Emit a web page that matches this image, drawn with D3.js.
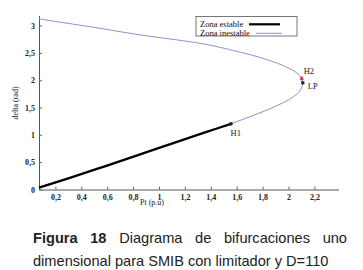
<!DOCTYPE html>
<html>
<head>
<meta charset="utf-8">
<script src="https://cdn.jsdelivr.net/npm/d3@7"></script>
<style>
  body { margin: 0; background: #fff; }
  svg { display: block; }
</style>
</head>
<body>
<div id="plot-container"></div>
<script>
// Stable branch (Pt, delta)
const stableP = [0.073, 0.30, 0.544, 0.815, 1.162, 1.35, 1.556];
const stableDelta = [0.035, 0.205, 0.395, 0.612, 0.89, 1.04, 1.202];

// Unstable branch, from H1 round LP back to the left
const unstableP = [1.556, 1.70, 1.85, 1.96, 2.04, 2.09, 2.11, 2.102, 2.063, 1.986, 1.832, 1.574, 1.337, 0.822, 0.488, 0.073];
const unstableDelta = [1.202, 1.33, 1.47, 1.59, 1.70, 1.81, 1.952, 2.03, 2.135, 2.237, 2.378, 2.543, 2.665, 2.84, 2.97, 3.12];

// Special points
const pointNames = ['H1', 'H2', 'LP'];
const pointP = [1.556, 2.102, 2.11];
const pointDelta = [1.202, 2.03, 1.952];

const xTicks = [0.2, 0.4, 0.6, 0.8, 1, 1.2, 1.4, 1.6, 1.8, 2, 2.2];
const yTicks = [0, 0.5, 1, 1.5, 2, 2.5, 3];

const legendLabels = ['Zona estable', 'Zona inestable'];
const captionLine1 = ['Figura', '18', 'Diagrama', 'de', 'bifurcaciones', 'uno'];
const captionLine2 = 'dimensional para SMIB con limitador y D=110';

const W = 363, H = 270;
const svg = d3.select('#plot-container')
  .append('svg')
  .attr('width', W)
  .attr('height', H);

svg.append('rect').attr('width', W).attr('height', H).attr('fill', '#fff');

const x = d3.scaleLinear().domain([0.0734, 2.386]).range([39, 338.5]);
const y = d3.scaleLinear().domain([0, 3.183]).range([189.5, 15.5]);

const fmt = v => String(v).replace('.', ',');
const serif = '"Liberation Serif", "DejaVu Serif", serif';

// x axis, ticks pointing inward
const xAxis = svg.append('g')
  .attr('transform', `translate(0,${y(0)})`)
  .call(d3.axisBottom(x).tickValues(xTicks).tickFormat(fmt).tickSizeInner(-3).tickSizeOuter(0).tickPadding(4.5));
xAxis.select('.domain').attr('stroke', '#555');
xAxis.selectAll('.tick line').attr('stroke', '#666');
xAxis.selectAll('text')
  .attr('fill', '#222')
  .style('font-family', serif)
  .style('font-size', '8px')
  .style('font-weight', 'bold');

// y axis
const yAxis = svg.append('g')
  .attr('transform', `translate(${x.range()[0]},0)`)
  .call(d3.axisLeft(y).tickValues(yTicks).tickFormat(fmt).tickSizeInner(-3).tickSizeOuter(0).tickPadding(4));
yAxis.select('.domain').attr('stroke', '#555');
yAxis.selectAll('.tick line').attr('stroke', '#666');
yAxis.selectAll('text')
  .attr('fill', '#222')
  .style('font-family', serif)
  .style('font-size', '8px')
  .style('font-weight', 'bold');

// axis titles (the x title sits low, just under the "1" label, as in the source)
svg.append('text')
  .attr('x', 152).attr('y', 205)
  .attr('text-anchor', 'middle')
  .style('font-family', serif).style('font-size', '8px')
  .attr('fill', '#222')
  .text('Pt (p.u)');

svg.append('text')
  .attr('transform', 'translate(15,103) rotate(-90)')
  .attr('text-anchor', 'middle')
  .attr('dy', '0.35em')
  .style('font-family', serif).style('font-size', '8px')
  .attr('fill', '#222')
  .text('delta (rad)');

// curves
const line = d3.line()
  .x(d => x(d[0]))
  .y(d => y(d[1]))
  .curve(d3.curveCatmullRom.alpha(0.5));

svg.append('path')
  .datum(unstableP.map((p, i) => [p, unstableDelta[i]]))
  .attr('d', line)
  .attr('fill', 'none')
  .attr('stroke', '#8a90d4')
  .attr('stroke-width', 1);

svg.append('path')
  .datum(stableP.map((p, i) => [p, stableDelta[i]]))
  .attr('d', line)
  .attr('fill', 'none')
  .attr('stroke', '#000')
  .attr('stroke-width', 2.3);

// special points
const markColors = ['#222', '#e0204a', '#222'];
pointNames.forEach((name, i) => {
  svg.append('path')
    .attr('transform', `translate(${x(pointP[i])},${y(pointDelta[i])})`)
    .attr('d', d3.symbol().type(d3.symbolAsterisk).size(10)())
    .attr('fill', 'none')
    .attr('stroke', markColors[i])
    .attr('stroke-width', 1.2);
});

const labelOffsets = { H1: [-0.5, 12], H2: [2, -4.5], LP: [5, 6] };
pointNames.forEach((name, i) => {
  const o = labelOffsets[name];
  svg.append('text')
    .attr('x', x(pointP[i]) + o[0])
    .attr('y', y(pointDelta[i]) + o[1])
    .style('font-family', serif).style('font-size', '8.5px')
    .attr('fill', '#222')
    .text(name);
});

// legend
const legend = svg.append('g');
legend.append('rect')
  .attr('x', 196).attr('y', 16.5).attr('width', 101).attr('height', 19.5)
  .attr('fill', '#fff').attr('stroke', '#555').attr('stroke-width', 0.8);
legendLabels.forEach((lab, i) => {
  legend.append('text')
    .attr('x', 200).attr('y', 27 + i * 8.7)
    .style('font-family', serif).style('font-size', '8.5px')
    .attr('fill', '#111')
    .text(lab);
});
legend.append('line')
  .attr('x1', 249).attr('x2', 280).attr('y1', 24.3).attr('y2', 24.3)
  .attr('stroke', '#000').attr('stroke-width', 2.2);
legend.append('line')
  .attr('x1', 256).attr('x2', 282).attr('y1', 33.3).attr('y2', 33.3)
  .attr('stroke', '#8a90d4').attr('stroke-width', 1);

// caption, first line justified
const sans = '"Liberation Sans", Arial, sans-serif';
const capLeft = 33, capRight = 347;
const words = captionLine1.map((w, i) => svg.append('text')
  .attr('y', 243)
  .style('font-family', sans).style('font-size', '14.6px')
  .style('font-weight', i < 2 ? 'bold' : 'normal')
  .attr('fill', '#222')
  .text(w));
const widths = words.map(t => t.node().getComputedTextLength());
const gap = (capRight - capLeft - d3.sum(widths)) / (words.length - 1);
let cx = capLeft;
words.forEach((t, i) => { t.attr('x', cx); cx += widths[i] + gap; });

svg.append('text')
  .attr('x', capLeft).attr('y', 265.5)
  .style('font-family', sans).style('font-size', '14.6px')
  .attr('fill', '#222')
  .text(captionLine2);
</script>
</body>
</html>
